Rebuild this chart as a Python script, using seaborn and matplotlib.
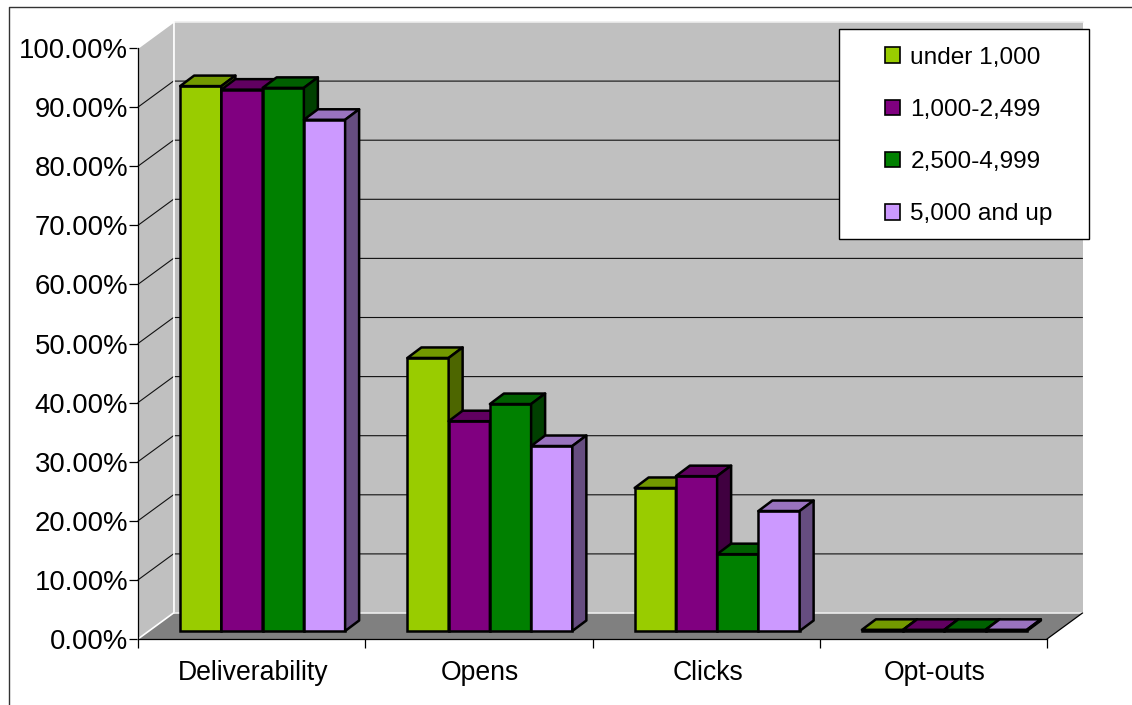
import matplotlib
matplotlib.use("Agg")
import matplotlib.pyplot as plt
from matplotlib.lines import Line2D
from matplotlib.patches import Patch, Polygon, Rectangle
from matplotlib.transforms import ScaledTranslation
import pandas as pd
import seaborn as sns

# Campaign metrics by list size
metrics = ["Deliverability", "Opens", "Clicks", "Opt-outs"]
size_bands = ["under 1,000", "1,000-2,499", "2,500-4,999", "5,000 and up"]
under_1000 = [92.2, 46.2, 24.2, 0.2]
from_1000 = [91.6, 35.5, 26.2, 0.2]
from_2500 = [91.9, 38.4, 13.0, 0.2]
from_5000 = [86.5, 31.3, 20.3, 0.2]

front_colors = ["#99CC00", "#800080", "#008000", "#CC99FF"]
top_colors = ["#739900", "#600060", "#006000", "#9973BF"]
side_colors = ["#4D6600", "#400040", "#004000", "#664D80"]
WALL = "#C0C0C0"
FLOOR = "#808080"

W, H = 1132, 705
FONT = "Liberation Sans"
sns.set_style("white")
plt.rcParams["font.family"] = [FONT, "DejaVu Sans"]


def box(left, right, top, bottom):
    """Axes rectangle from pixel edges (origin top-left)."""
    return [left / W, 1 - bottom / H, (right - left) / W, (bottom - top) / H]


fig = plt.figure(figsize=(W / 100, H / 100), dpi=100, facecolor="white")

# Front plane: carries the scales, the tick marks and the chart's box walls
ax = fig.add_axes(box(138, 1047, 48, 639), facecolor="none")
ax.set_xlim(-0.5, 3.5)
ax.set_ylim(0, 100)
px_x = 4 / 909  # category units per pixel
px_y = 100 / 591  # percent per pixel
depth_x, depth_y = 35.5 * px_x, 26 * px_y

x0, x1 = -0.5, 3.5
ax.add_patch(Polygon([(x0 + depth_x, depth_y), (x1 + depth_x, depth_y),
                      (x1 + depth_x, 100 + depth_y), (x0 + depth_x, 100 + depth_y)],
                     fc=WALL, ec="none", clip_on=False, zorder=0))
ax.add_patch(Polygon([(x0, 0), (x0 + depth_x, depth_y),
                      (x0 + depth_x, 100 + depth_y), (x0, 100)],
                     fc=WALL, ec="none", clip_on=False, zorder=0))
ax.add_patch(Polygon([(x0, 0), (x1, 0), (x1 + depth_x, depth_y), (x0 + depth_x, depth_y)],
                     fc=FLOOR, ec="none", clip_on=False, zorder=0))

y_ticks = list(range(0, 101, 10))
for y in y_ticks[1:-1]:
    ax.plot([x0, x0 + depth_x, x1 + depth_x], [y, y + depth_y, y + depth_y],
            color="#111111", lw=0.8, clip_on=False, zorder=1)

# Light edges of the back wall, the top of the side wall and its floor seam
ax.plot([x0 + depth_x, x1 + depth_x], [100 + depth_y] * 2, color="#EDEDED", lw=1.2, clip_on=False, zorder=1)
ax.plot([x0 + depth_x] * 2, [depth_y, 100 + depth_y], color="white", lw=1.2, clip_on=False, zorder=1)
ax.plot([x0 + depth_x, x1 + depth_x], [depth_y, depth_y], color="#EDEDED", lw=1.2, clip_on=False, zorder=1)
ax.plot([x0, x0 + depth_x], [100, 100 + depth_y], color="white", lw=1.2, clip_on=False, zorder=1)
ax.plot([x0, x0 + depth_x], [0, depth_y], color="white", lw=1.2, clip_on=False, zorder=1)
ax.plot([x1, x1 + depth_x], [0, depth_y], color="black", lw=0.9, clip_on=False, zorder=1)

for name in ("top", "right"):
    ax.spines[name].set_visible(False)
for name in ("left", "bottom"):
    ax.spines[name].set_linewidth(0.9)
    ax.spines[name].set_color("black")

ax.set_yticks(y_ticks)
ax.set_yticklabels([f"{v:.2f}%" for v in y_ticks], fontsize=19.8, color="black")
ax.set_xticks(range(len(metrics)))
ax.set_xticklabels(metrics, fontsize=19.2, color="black")
ax.set_xticks([-0.5, 0.5, 1.5, 2.5, 3.5], minor=True)
ax.tick_params(axis="y", which="major", length=6.5, width=0.9, pad=0.5, left=True, color="black")
ax.tick_params(axis="x", which="major", length=0, pad=15)
ax.tick_params(axis="x", which="minor", length=6.5, width=0.9, bottom=True, color="black")

# Category names sit a touch right of the category centres
nudge = ScaledTranslation(1.5 / 100, 0, fig.dpi_scale_trans)
for label in ax.get_xticklabels():
    label.set_transform(label.get_transform() + nudge)

# Bars stand slightly behind the front plane, so they get their own axes
ax_bars = fig.add_axes(box(149, 1058, 40, 631), facecolor="none")
table = pd.DataFrame({
    "metric": metrics * 4,
    "band": [b for b in size_bands for _ in metrics],
    "value": under_1000 + from_1000 + from_2500 + from_5000,
})
sns.barplot(data=table, x="metric", y="value", hue="band", order=metrics,
            hue_order=size_bands, palette=front_colors, width=0.726, gap=0,
            saturation=1, edgecolor="black", linewidth=1.8, legend=False,
            ax=ax_bars)
ax_bars.set_xlim(-0.5, 3.5)
ax_bars.set_ylim(0, 100)
ax_bars.axis("off")

bar_dx, bar_dy = 14 * px_x, 10.5 * px_y
for i, container in enumerate(ax_bars.containers):
    for bar in container:
        left, right, h = bar.get_x(), bar.get_x() + bar.get_width(), bar.get_height()
        z = 3 + i + bar.get_x()
        bar.set_zorder(z)
        bar.set_clip_on(False)
        ax_bars.add_patch(Polygon([(left, h), (right, h), (right + bar_dx, h + bar_dy),
                                   (left + bar_dx, h + bar_dy)], closed=True,
                                  fc=top_colors[i], ec="black", lw=1.8,
                                  joinstyle="round", clip_on=False, zorder=z))
        ax_bars.add_patch(Polygon([(right, 0), (right + bar_dx, bar_dy),
                                   (right + bar_dx, h + bar_dy), (right, h)], closed=True,
                                  fc=side_colors[i], ec="black", lw=1.8,
                                  joinstyle="round", clip_on=False, zorder=z))

# Legend panel
ax_bars.add_patch(Rectangle((839 / W, 1 - 239 / H), 250 / W, 210 / H, transform=fig.transFigure,
                            fc="white", ec="black", lw=1.0, clip_on=False, zorder=20))
handles = [Patch(fc=c, ec="black", lw=1.2) for c in front_colors]
legend = ax_bars.legend(handles, size_bands, loc="upper left",
                        bbox_to_anchor=(885 / W, 1 - 47 / H),
                        bbox_transform=fig.transFigure, frameon=False,
                        fontsize=17.6, borderpad=0, borderaxespad=0,
                        handlelength=0.62, handleheight=0.62, handletextpad=0.42,
                        labelspacing=1.23, labelcolor="black")
legend.set_zorder(21)

# Chart-area border along the top and left
fig.add_artist(Line2D([9 / W, 9 / W, 1], [0, 1 - 6.5 / H, 1 - 6.5 / H], color="#333333", lw=1.0))

fig.savefig("out.png", dpi=100, facecolor="white")
